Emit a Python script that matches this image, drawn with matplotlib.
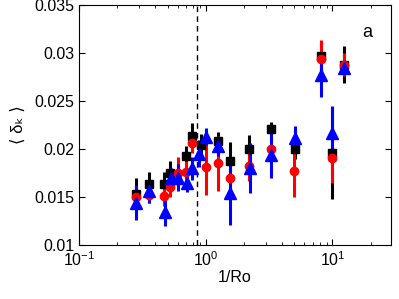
import numpy as np
import matplotlib
matplotlib.use('Agg')
import matplotlib.pyplot as plt

plt.rcParams['font.family'] = ['Liberation Sans', 'DejaVu Sans']
plt.rcParams['mathtext.fontset'] = 'custom'
plt.rcParams['mathtext.rm'] = 'Liberation Sans'
plt.rcParams['mathtext.it'] = 'Liberation Sans:italic'
plt.rcParams['mathtext.bf'] = 'Liberation Sans:bold'

# black squares
xk = [0.28, 0.357, 0.469, 0.523, 0.695, 0.785, 0.913, 1.25, 1.55, 2.2, 3.3, 5.04, 8.19, 10.0, 12.4]
yk = [0.0153, 0.0164, 0.0164, 0.0175, 0.0193, 0.0214, 0.0204, 0.0208, 0.0188, 0.0200, 0.0221, 0.0200, 0.0297, 0.0196, 0.0288]
ek = [0.0017, 0.0012, 0.0012, 0.0012, 0.0010, 0.0013, 0.0012, 0.0010, 0.0019, 0.0015, 0.0007, 0.0010, 0.0016, 0.0048, 0.0019]

# red circles
xr = [0.28, 0.357, 0.469, 0.525, 0.605, 0.695, 0.785, 1.0, 1.26, 1.55, 2.2, 3.3, 4.98, 8.19, 10.0, 12.4]
yr = [0.0150, 0.0152, 0.0151, 0.0160, 0.0175, 0.0176, 0.0206, 0.0181, 0.0185, 0.0170, 0.0182, 0.0200, 0.0177, 0.0294, 0.0191, 0.0288]
er = [0.0010, 0.0008, 0.0010, 0.0010, 0.0017, 0.0012, 0.0010, 0.0029, 0.0029, 0.0015, 0.0015, 0.0012, 0.0027, 0.0020, 0.0026, 0.0012]

# blue triangles
xb = [0.28, 0.357, 0.475, 0.53, 0.6, 0.71, 0.785, 0.886, 1.01, 1.24, 1.56, 2.22, 3.3, 5.04, 8.19, 10.0, 12.4]
yb = [0.0144, 0.0156, 0.0134, 0.0170, 0.0170, 0.0165, 0.0180, 0.0195, 0.0213, 0.0203, 0.0154, 0.0180, 0.0194, 0.0211, 0.0277, 0.0217, 0.0284]
eb = [0.0018, 0.0012, 0.0014, 0.0010, 0.0014, 0.0010, 0.0012, 0.0014, 0.0009, 0.0010, 0.0033, 0.0026, 0.0024, 0.0013, 0.0023, 0.0028, 0.0004]

ro_crit = 0.86

fig = plt.figure(figsize=(3.99, 2.99), dpi=100)
ax = fig.add_axes([79/399, 1 - 245/299, (391 - 79)/399, (245 - 5)/299])

ax.axvline(ro_crit, color='k', linestyle='--', linewidth=1, dashes=(4, 3))

ax.errorbar(xk, yk, yerr=ek, fmt='s', color='k', ms=6.3, elinewidth=2.2, capsize=0)
ax.errorbar(xr, yr, yerr=er, fmt='o', color='r', ms=6, elinewidth=2.2, capsize=0)
ax.errorbar(xb, yb, yerr=eb, fmt='^', color='b', ms=8, elinewidth=2.2, capsize=0)

ax.set_xscale('log')
ax.set_xlim(0.1, 29)
ax.set_ylim(0.01, 0.035)
ax.set_yticks([0.01, 0.015, 0.02, 0.025, 0.03, 0.035])
ax.set_yticklabels(['0.01', '0.015', '0.02', '0.025', '0.03', '0.035'])
ax.tick_params(which='both', direction='in', top=True, right=True, labelsize=11.5)
ax.tick_params(which='major', length=4)
ax.tick_params(which='minor', length=2.5)
ax.set_xlabel('1/Ro', fontsize=11.5, labelpad=1)
ax.set_ylabel('\u27e8 \u03b4\u2096 \u27e9', fontsize=12, labelpad=6)
ax.text(0.925, 0.887, 'a', transform=ax.transAxes, fontsize=13, ha='center', va='center')

fig.savefig('out.png', dpi=100)
